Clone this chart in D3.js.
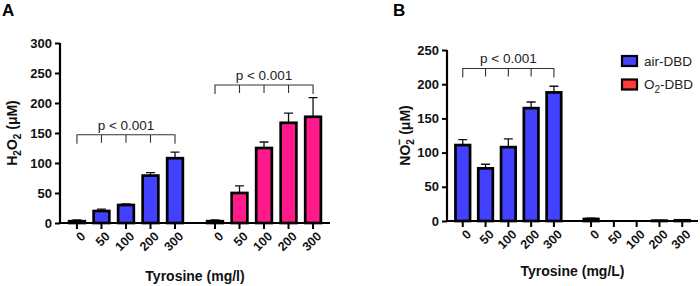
<!DOCTYPE html>
<html>
<head>
<meta charset="utf-8">
<script src="https://cdn.jsdelivr.net/npm/d3@7"></script>
<style>
  body { margin: 0; background: #fff; }
  svg { font-family: "Liberation Sans", Arial, sans-serif; }
</style>
</head>
<body>
<div id="chart"></div>
<script>
// data
const doses = ["0", "50", "100", "200", "300"];
const groups = ["air-DBD", "O2-DBD"];

const h2o2Air = [3, 20, 30, 79, 108];
const h2o2AirErr = [2, 3, 2, 5, 10];
const h2o2O2 = [3, 50, 125, 167, 177];
const h2o2O2Err = [2, 12, 10, 16, 32];

const no2Air = [111, 77, 108, 165, 188];
const no2AirErr = [8, 6, 12, 9, 9];
const no2O2 = [3, 0, 0, 0.5, 1];
const no2O2Err = [1, 0, 0, 0.5, 1];

const ticksA = [0, 50, 100, 150, 200, 250, 300];
const ticksB = [0, 50, 100, 150, 200, 250];

const colors = {"air-DBD": "#4141ff", "O2-DBD": "#ff1a8c"};
const legendColors = {"air-DBD": "#4141ff", "O2-DBD": "#ff3b3b"};

svg = d3.select("#chart")
  .append("svg")
  .attr("width", 700)
  .attr("height", 286);

function drawPanel(p) {
  const g = svg.append("g");

  const y = d3.scaleLinear().domain(p.yDomain).range([p.bottom, p.top]);
  const xg = d3.scaleBand().domain(groups).range([p.left, p.right])
    .paddingInner(0.112).paddingOuter(0.034);
  const xd = d3.scaleBand().domain(doses).range([0, xg.bandwidth()])
    .paddingInner(0.36).paddingOuter(0.18);
  const cx = (grp, d) => xg(grp) + xd(d) + xd.bandwidth() / 2;

  // bars
  const rows = [];
  groups.forEach((grp, gi) => {
    doses.forEach((d, i) => {
      rows.push({grp, d, v: p.values[gi][i], e: p.errors[gi][i]});
    });
  });

  // error bars (upper only)
  g.selectAll(".err")
    .data(rows)
    .join("path")
      .attr("d", r => {
        const x0 = cx(r.grp, r.d), yt = y(r.v + r.e), yb = y(r.v);
        return `M${x0},${yb}V${yt}M${x0 - 4.5},${yt}H${x0 + 4.5}`;
      })
      .attr("stroke", "#111")
      .attr("stroke-width", 1.3)
      .attr("fill", "none");

  g.selectAll(".bar")
    .data(rows)
    .join("rect")
      .attr("x", r => xg(r.grp) + xd(r.d))
      .attr("y", r => y(r.v))
      .attr("width", xd.bandwidth())
      .attr("height", r => y(0) - y(r.v))
      .attr("fill", r => colors[r.grp])
      .attr("stroke", "#000")
      .attr("stroke-width", 2.7);

  // axes
  const yAxis = g.append("g")
    .attr("transform", `translate(${p.left},0)`)
    .call(d3.axisLeft(y).tickValues(p.ticks).tickSize(5).tickPadding(3));
  yAxis.select(".domain").attr("stroke-width", 2.2).attr("d", `M0,${p.bottom}V${p.top}`);
  yAxis.selectAll(".tick line").attr("stroke-width", 2);
  yAxis.selectAll("text")
    .style("font-size", "13px")
    .style("font-weight", "bold")
    .attr("fill", "#111");

  const xAxis = g.append("g")
    .attr("transform", `translate(0,${p.bottom})`);
  xAxis.append("line")
    .attr("x1", p.left).attr("x2", p.right)
    .attr("stroke", "#000").attr("stroke-width", 2.2);
  groups.forEach(grp => {
    const t = xAxis.selectAll(null)
      .data(doses)
      .join("g")
        .attr("transform", d => `translate(${cx(grp, d)},0)`);
    t.append("line").attr("y2", 6).attr("stroke", "#000").attr("stroke-width", 2);
    t.append("text")
      .attr("text-anchor", "end")
      .attr("dy", "0.35em")
      .attr("transform", "translate(6,11) rotate(-45)")
      .style("font-size", "12.5px")
      .style("font-weight", "bold")
      .attr("fill", "#111")
      .text(d => d);
  });

  // significance brackets
  p.brackets.forEach(b => {
    const x1 = cx(b.grp, doses[0]), x2 = cx(b.grp, doses[doses.length - 1]);
    const yb = y(b.at);
    g.append("path")
      .attr("d", `M${x1},${yb + 9}V${yb}H${x2}V${yb + 9}` +
        doses.slice(1, -1).map(d => `M${cx(b.grp, d)},${yb}V${yb + 8}`).join(""))
      .attr("fill", "none")
      .attr("stroke", "#333")
      .attr("stroke-width", 1.1);
    g.append("text")
      .attr("x", (x1 + x2) / 2)
      .attr("y", yb - 5)
      .attr("text-anchor", "middle")
      .style("font-size", "13.5px")
      .attr("fill", "#222")
      .text("p < 0.001");
  });

  // y label
  const yl = g.append("text")
    .attr("transform", `translate(${p.yLabelX},${(p.top + p.bottom) / 2}) rotate(-90)`)
    .attr("text-anchor", "middle")
    .style("font-size", "14px")
    .style("font-weight", "bold")
    .attr("fill", "#111");
  p.yLabel(yl);

  // x label
  g.append("text")
    .attr("x", (p.left + p.right) / 2)
    .attr("y", p.xLabelY)
    .attr("text-anchor", "middle")
    .style("font-size", "14px")
    .style("font-weight", "bold")
    .attr("fill", "#111")
    .text(p.xLabel);

  // panel letter
  g.append("text")
    .attr("x", p.letterX)
    .attr("y", 16)
    .style("font-size", "17px")
    .style("font-weight", "bold")
    .text(p.letter);
}

drawPanel({
  letter: "A", letterX: 2,
  left: 60, right: 330, top: 43, bottom: 223,
  yDomain: [0, 300], ticks: ticksA,
  values: [h2o2Air, h2o2O2], errors: [h2o2AirErr, h2o2O2Err],
  brackets: [{grp: "air-DBD", at: 147}, {grp: "O2-DBD", at: 230}],
  yLabelX: 17,
  yLabel: t => {
    t.append("tspan").text("H");
    t.append("tspan").attr("dy", 4).style("font-size", "10px").text("2");
    t.append("tspan").attr("dy", -4).text("O");
    t.append("tspan").attr("dy", 4).style("font-size", "10px").text("2");
    t.append("tspan").attr("dy", -4).text(" (μM)");
  },
  xLabel: "Tyrosine (mg/l)", xLabelY: 281
});

drawPanel({
  letter: "B", letterX: 393,
  left: 447, right: 698, top: 50, bottom: 221,
  yDomain: [0, 250], ticks: ticksB,
  values: [no2Air, no2O2], errors: [no2AirErr, no2O2Err],
  brackets: [{grp: "air-DBD", at: 223}],
  yLabelX: 410,
  yLabel: t => {
    t.append("tspan").text("NO");
    t.append("tspan").attr("dy", 4).style("font-size", "10px").text("2");
    t.append("tspan").attr("dx", -6).attr("dy", -11).style("font-size", "11px").text("−");
    t.append("tspan").attr("dy", 7).text(" (μM)");
  },
  xLabel: "Tyrosine (mg/L)", xLabelY: 276
});

// legend
const legend = svg.append("g")
  .selectAll("g")
  .data(groups)
  .join("g")
    .attr("transform", (d, i) => `translate(622,${61 + i * 23.5})`);
legend.append("rect")
  .attr("x", 0).attr("y", -5)
  .attr("width", 15).attr("height", 10)
  .attr("fill", d => legendColors[d])
  .attr("stroke", "#000").attr("stroke-width", 2.2);
legend.append("text")
  .attr("x", 22)
  .attr("dy", "0.35em")
  .style("font-size", "13.5px")
  .attr("fill", "#222")
  .each(function(d) {
    const t = d3.select(this);
    if (d === "O2-DBD") {
      t.append("tspan").text("O");
      t.append("tspan").attr("dy", 4).style("font-size", "10px").text("2");
      t.append("tspan").attr("dy", -4).text("-DBD");
    } else {
      t.text(d);
    }
  });
</script>
</body>
</html>
